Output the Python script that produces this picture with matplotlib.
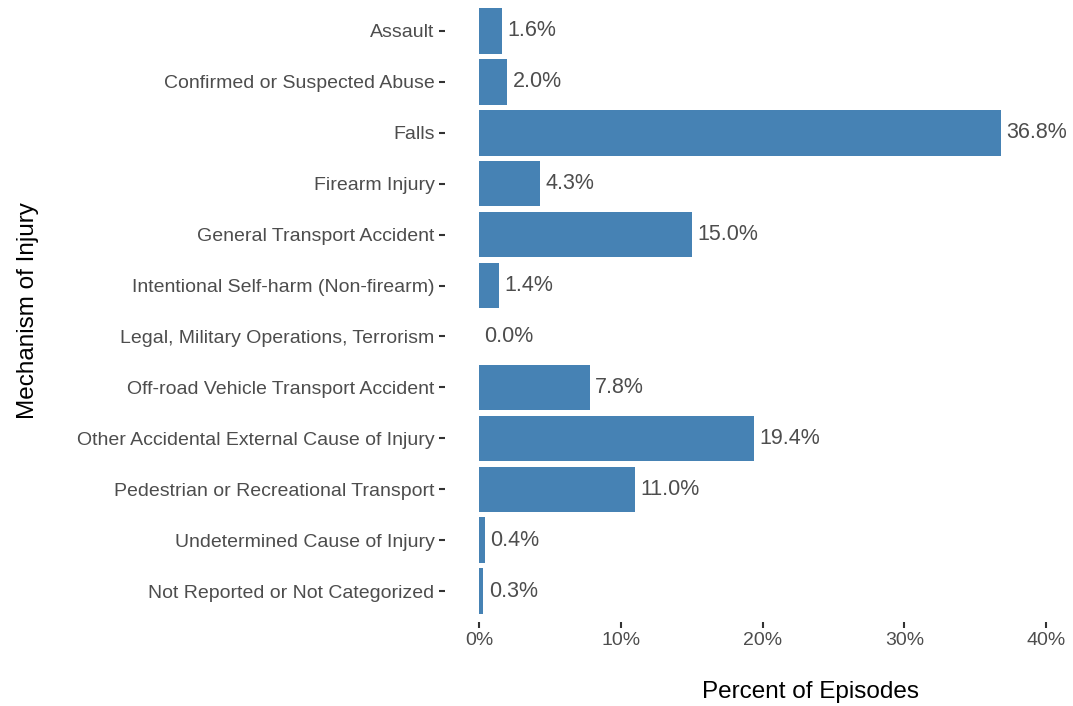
import matplotlib.pyplot as plt
import numpy as np

mechanisms = [
    "Assault",
    "Confirmed or Suspected Abuse",
    "Falls",
    "Firearm Injury",
    "General Transport Accident",
    "Intentional Self-harm (Non-firearm)",
    "Legal, Military Operations, Terrorism",
    "Off-road Vehicle Transport Accident",
    "Other Accidental External Cause of Injury",
    "Pedestrian or Recreational Transport",
    "Undetermined Cause of Injury",
    "Not Reported or Not Categorized",
]
percent = [1.6, 2.0, 36.8, 4.3, 15.0, 1.4, 0.0, 7.8, 19.4, 11.0, 0.4, 0.3]
x_ticks = [0, 10, 20, 30, 40]

plt.rcParams["font.family"] = ["Liberation Sans", "DejaVu Sans"]

fig = plt.figure(figsize=(10.73, 7.06), dpi=100)
left_px, right_px, bottom_px = 445, 1073, 622
ax = fig.add_axes([left_px / 1073, 1 - bottom_px / 706, (right_px - left_px) / 1073, bottom_px / 706])

y = np.arange(len(mechanisms))
ax.barh(y, percent, height=0.9, color="#4682B4")
for yi, v in zip(y, percent):
    ax.annotate(f"{v:.1f}%", (v, yi), xytext=(4, 0), textcoords="offset points",
                ha="left", va="center", fontsize=15.5, color="#4D4D4D")

ax.set_ylim(len(mechanisms) - 0.4, -0.6)
ax.set_xlim(-2.4, 41.9)
ax.set_yticks(y)
ax.set_yticklabels(mechanisms)
ax.set_xticks(x_ticks)
ax.set_xticklabels([f"{t}%" for t in x_ticks])
ax.tick_params(axis="y", labelsize=14, labelcolor="#4D4D4D", color="#333333",
               length=4, width=1.5, pad=3.5)
ax.tick_params(axis="x", labelsize=14, labelcolor="#4D4D4D", color="#333333",
               length=4, width=1.5, pad=3.5)
for s in ax.spines.values():
    s.set_visible(False)

fig.text(810 / 1073, 1 - 692 / 706, "Percent of Episodes", ha="center", va="center",
         fontsize=17.5, color="black")
fig.text(28 / 1073, 1 - 311 / 706, "Mechanism of Injury", ha="center", va="center",
         rotation=90, fontsize=17.5, color="black")

fig.savefig("out.png", dpi=100)
